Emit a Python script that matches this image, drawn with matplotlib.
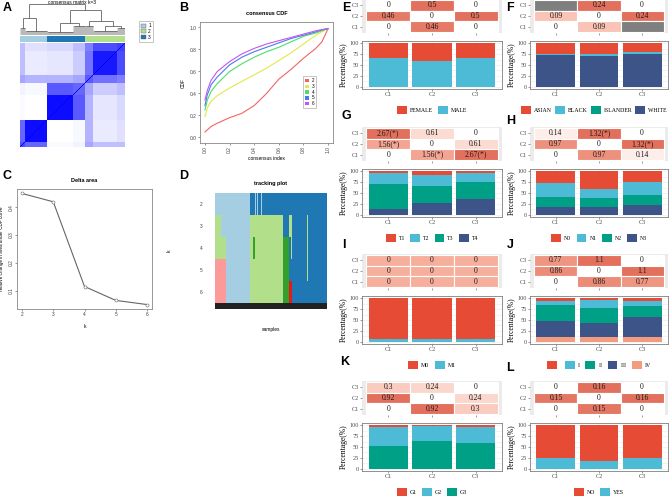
import numpy as np
import matplotlib.pyplot as plt
from matplotlib.patches import Patch, Rectangle
from matplotlib.colors import LinearSegmentedColormap, ListedColormap

SANS = 'Liberation Sans'
SERIF = 'Liberation Serif'

# ---------------- A: consensus matrix (k=3) ----------------
# sample sub-groups in plotting order, their cluster and group-level consensus
sub_sizes = [5, 22, 26, 12, 8, 24, 8]
sub_cluster = [1, 1, 3, 3, 2, 2, 2]
sub_consensus = [
    [0.70, 0.60, 0.02, 0.05, 0.35, 0.25, 0.25],
    [0.60, 0.95, 0.00, 0.03, 0.30, 0.08, 0.12],
    [0.02, 0.00, 0.95, 0.65, 0.30, 0.10, 0.15],
    [0.05, 0.03, 0.65, 0.60, 0.35, 0.20, 0.25],
    [0.35, 0.30, 0.30, 0.35, 0.65, 0.55, 0.50],
    [0.25, 0.08, 0.10, 0.20, 0.55, 0.90, 0.70],
    [0.25, 0.12, 0.15, 0.25, 0.50, 0.70, 0.75],
]
sub_leaf_h = [0.22, 0.12, 0.10, 0.28, 0.30, 0.12, 0.22]
tree = (1.0, [(0.53, [0, 1]), (0.80, [(0.37, [2, 3]), (0.45, [4, (0.30, [5, 6])])])])
cluster_colors = {1: '#A6CEE3', 2: '#B2DF8A', 3: '#1F78B4'}

# ---------------- B: consensus CDF ----------------
cdf_x = [0, 0.02, 0.05, 0.1, 0.2, 0.3, 0.4, 0.5, 0.6, 0.7, 0.8, 0.9, 0.95, 1.0]
cdf_k2 = [0.05, 0.07, 0.10, 0.13, 0.18, 0.22, 0.29, 0.40, 0.53, 0.62, 0.72, 0.81, 0.87, 0.99]
cdf_k3 = [0.19, 0.27, 0.33, 0.38, 0.45, 0.51, 0.57, 0.63, 0.70, 0.77, 0.85, 0.93, 0.96, 0.99]
cdf_k4 = [0.25, 0.34, 0.42, 0.49, 0.60, 0.67, 0.73, 0.78, 0.82, 0.87, 0.92, 0.95, 0.97, 0.99]
cdf_k5 = [0.29, 0.39, 0.48, 0.55, 0.66, 0.73, 0.78, 0.82, 0.86, 0.90, 0.93, 0.96, 0.98, 0.99]
cdf_k6 = [0.34, 0.43, 0.52, 0.60, 0.69, 0.76, 0.81, 0.85, 0.88, 0.91, 0.94, 0.97, 0.98, 0.99]
cdf_colors = ['#F26464', '#E3E84A', '#4FDD6A', '#4A7BF0', '#C555EE']

# ---------------- C: delta area ----------------
delta_k = [2, 3, 4, 5, 6]
delta_area = [0.45, 0.42, 0.115, 0.065, 0.05]

# ---------------- D: tracking plot (runs of cluster colour per k) ----------------
track_palette = ['#A6CEE3', '#1F78B4', '#B2DF8A', '#33A02C', '#FB9A99', '#E31A1C', '#222222']
track_runs = {
    2: [(0, 35), (1, 5), (0, 1), (1, 1), (0, 1), (1, 3), (0, 1), (1, 65)],
    3: [(2, 6), (0, 29), (2, 33), (1, 6), (2, 3), (1, 15), (2, 1), (1, 19)],
    4: [(2, 11), (0, 24), (2, 3), (3, 2), (2, 28), (3, 6), (1, 2), (2, 1), (1, 15), (2, 1), (1, 19)],
    5: [(4, 11), (0, 24), (2, 33), (3, 6), (1, 18), (2, 1), (1, 19)],
    6: [(4, 11), (0, 24), (2, 33), (3, 6), (5, 3), (1, 35)],
}

# ---------------- E-L: clinical composition ----------------
clusters = ['C1', 'C2', 'C3']
npg = ['#E64B35', '#4DBBD5', '#00A087', '#3C5488', '#F39B7F']

e_cells = [['0', '0.5', '0'], ['0.46', '0', '0.5'], ['0', '0.46', '0']]
e_levels = ['FEMALE', 'MALE']
e_pct = [[34, 40, 34], [66, 60, 66]]

f_cells = [['NA', '0.24', '0'], ['0.09', '0', '0.24'], ['0', '0.09', 'NA']]
f_levels = ['ASIAN', 'BLACK', 'ISLANDER', 'WHITE']
f_pct = [[24, 25.5, 20], [3, 4.2, 5], [0.5, 0.3, 0], [72.5, 70, 75]]

g_cells = [['2.67(*)', '0.61', '0'], ['1.56(*)', '0', '0.61'], ['0', '1.56(*)', '2.67(*)']]
g_levels = ['T1', 'T2', 'T3', 'T4']
g_pct = [[4, 8.5, 4], [25, 24.5, 20], [58, 41, 40], [13, 26, 36]]

h_cells = [['0.14', '1.32(*)', '0'], ['0.97', '0', '1.32(*)'], ['0', '0.97', '0.14']]
h_levels = ['N0', 'N1', 'N2', 'N3']
h_pct = [[27, 40, 25], [33, 22, 30], [22, 21, 22], [18, 17, 23]]

i_cells = [['0', '0', '0'], ['0', '0', '0'], ['0', '0', '0']]
i_levels = ['M0', 'M1']
i_pct = [[94, 94.5, 94.5], [6, 5.5, 5.5]]

j_cells = [['0.77', '1.1', '0'], ['0.86', '0', '1.1'], ['0', '0.86', '0.77']]
j_levels = ['', 'I', 'II', 'III', 'IV']
j_pct = [[6, 4, 6], [10, 19.5, 13], [37, 33.5, 23], [37, 33, 47], [10, 10, 11]]

k_cells = [['0.3', '0.24', '0'], ['0.92', '0', '0.24'], ['0', '0.92', '0.3']]
k_levels = ['G1', 'G2', 'G3']
k_pct = [[5, 1, 4], [43, 36, 36], [52, 63, 60]]

l_cells = [['0', '0.16', '0'], ['0.15', '0', '0.16'], ['0', '0.15', '0']]
l_levels = ['NO', 'YES']
l_pct = [[76, 82, 76], [24, 18, 24]]

# ---------------------------------------------------------------
W, H = 672, 498
fig = plt.figure(figsize=(W / 100, H / 100), dpi=100)


def px_axes(x0, y0, x1, y1):
    return fig.add_axes([x0 / W, 1 - y1 / H, (x1 - x0) / W, (y1 - y0) / H])


def label(x, y, s):
    fig.text(x / W, 1 - y / H, s, fontsize=9, fontweight='bold', family=SANS,
             ha='center', va='center')


# ---- A ----
idx = np.repeat(np.arange(len(sub_sizes)), sub_sizes)
cons = np.array(sub_consensus)[np.ix_(idx, idx)]
np.fill_diagonal(cons, 1.0)
n_samp = len(idx)

ax = px_axes(20, 43, 125, 147)
ax.imshow(cons, origin='lower', aspect='auto', interpolation='nearest',
          cmap=LinearSegmentedColormap.from_list('wb', ['white', '#0000FF']),
          vmin=0, vmax=1)
ax.axis('off')

axc = px_axes(20, 36, 125, 42)
clu = [sub_cluster[g] for g in idx]
axc.imshow([clu], aspect='auto', interpolation='nearest',
           cmap=ListedColormap([cluster_colors[1], cluster_colors[2], cluster_colors[3]]),
           vmin=0.5, vmax=3.5)
axc.axis('off')

axd = px_axes(20, 3, 125, 35)
axd.set_xlim(0, n_samp)
axd.set_ylim(0, 1.02)
axd.axis('off')
pos = [0]
lc = '#444444'


def draw_tree(node):
    if isinstance(node, int):
        xs = pos[0] + np.arange(sub_sizes[node]) + 0.5
        h = sub_leaf_h[node]
        axd.vlines(xs, 0, h, color=lc, lw=0.3)
        axd.hlines(h, xs[0], xs[-1], color=lc, lw=0.4)
        pos[0] += sub_sizes[node]
        return xs.mean(), h
    h, kids = node
    res = [draw_tree(k) for k in kids]
    for x, hk in res:
        axd.vlines(x, hk, h, color=lc, lw=0.5)
    cx = [r[0] for r in res]
    axd.hlines(h, min(cx), max(cx), color=lc, lw=0.5)
    return np.mean(cx), h


draw_tree(tree)
fig.text(72 / W, 1 - 2 / H, 'consensus matrix k=3', fontsize=3.5, family=SANS,
         ha='center', va='center')
fig.legend([Patch(fc=cluster_colors[c], ec='#666', lw=0.3) for c in (1, 2, 3)],
           ['1', '2', '3'], loc='upper left', bbox_to_anchor=(137 / W, 1 - 19 / H),
           prop={'family': SANS, 'size': 3.5}, handlelength=0.9, handleheight=0.9,
           borderpad=0.4, labelspacing=0.15, handletextpad=0.5, fancybox=False,
           edgecolor='#999999', framealpha=1).get_frame().set_linewidth(0.4)
label(7, 8, 'A')


def r_style(ax):
    for s in ax.spines.values():
        s.set_color('#888888')
        s.set_linewidth(0.6)
    ax.tick_params(labelsize=3.5, length=1.5, width=0.4, colors='#444444', pad=1)
    for t in ax.get_xticklabels() + ax.get_yticklabels():
        t.set_family(SANS)


# ---- B ----
ax = px_axes(200, 22, 333, 143)
for ys, c, k in zip([cdf_k2, cdf_k3, cdf_k4, cdf_k5, cdf_k6], cdf_colors, range(2, 7)):
    ax.plot(cdf_x, ys, color=c, lw=0.8, label=str(k))
ax.set_xlim(-0.04, 1.04)
ax.set_ylim(-0.05, 1.05)
ax.set_xticks([0, 0.2, 0.4, 0.6, 0.8, 1.0])
ax.set_xticklabels(['0.0', '0.2', '0.4', '0.6', '0.8', '1.0'], rotation=90)
ax.set_yticks([0, 0.2, 0.4, 0.6, 0.8, 1.0])
ax.set_yticklabels(['0.0', '0.2', '0.4', '0.6', '0.8', '1.0'])
r_style(ax)
ax.set_title('consensus CDF', fontsize=4, family=SANS, fontweight='bold', pad=5)
ax.set_xlabel('consensus index', fontsize=3.5, family=SANS, labelpad=2)
ax.set_ylabel('CDF', fontsize=3.5, family=SANS, labelpad=3)
leg = ax.legend(loc='center left', bbox_to_anchor=(0.76, 0.42),
                handles=[Patch(fc=c, label=str(k)) for c, k in zip(cdf_colors, range(2, 7))],
                prop={'family': SANS, 'size': 3.3}, handlelength=0.8, handleheight=0.8,
                labelspacing=0.15, borderpad=0.4, handletextpad=0.6, fancybox=False,
                edgecolor='#999999', framealpha=1)
leg.get_frame().set_linewidth(0.4)
label(184, 8, 'B')

# ---- C ----
ax = px_axes(17, 189, 152, 309)
ax.plot(delta_k, delta_area, color='#666666', lw=0.8, marker='o', ms=2.2,
        mfc='white', mec='#666666', mew=0.4)
ax.set_xlim(1.84, 6.16)
ax.set_ylim(0.034, 0.466)
ax.set_xticks(delta_k)
ax.set_yticks([0.1, 0.2, 0.3, 0.4])
for t in ax.get_yticklabels():
    t.set_rotation(90)
    t.set_va('center')
r_style(ax)
ax.set_title('Delta area', fontsize=4, family=SANS, fontweight='bold', pad=5)
ax.set_xlabel('k', fontsize=3.5, family=SANS, labelpad=5)
ax.set_ylabel('relative change in area under CDF curve', fontsize=3.3, family=SANS,
              labelpad=3)
label(7, 176, 'C')

# ---- D ----
ks = sorted(track_runs)
track = []
for k in ks:
    row = []
    for code, n in track_runs[k]:
        row += [code] * n
    track.append(row)
track.append([6] * len(track[0]))
ax = px_axes(215, 193, 327, 309)
heights = [1] * len(ks) + [0.25]
edges = np.concatenate([[0], np.cumsum(heights)])
ax.pcolormesh(np.arange(len(track[0]) + 1), edges, np.array(track),
              cmap=ListedColormap(track_palette), vmin=-0.5, vmax=6.5)
ax.set_ylim(edges[-1], 0)
ax.set_xlim(0, len(track[0]))
for s in ax.spines.values():
    s.set_visible(False)
ax.set_xticks([])
ax.set_yticks(np.arange(len(ks)) + 0.5)
ax.set_yticklabels([str(k) for k in ks])
ax.tick_params(axis='y', length=0, labelsize=3.5, pad=9, colors='#444444')
for t in ax.get_yticklabels():
    t.set_family(SANS)
ax.set_title('tracking plot', fontsize=4, family=SANS, fontweight='bold', pad=6)
ax.set_xlabel('samples', fontsize=3.5, family=SANS, labelpad=13)
ax.set_ylabel('k', fontsize=3.5, family=SANS, labelpad=20)
label(184, 176, 'D')

# ---- E-L ----
heat_cmap = LinearSegmentedColormap.from_list('hr', ['#FFFFFF', '#F7AF9D', '#E2705C'])
cols_x = [(362, 502), (530, 668)]
row_top = [-1, 127, 254, 381]


def comp_panel(col, row, cells, levels, pct, colors, leg_dx=0, leg_cs=0.9):
    x0, x1 = cols_x[col]
    top = row_top[row]
    # pairwise heatmap
    axh = px_axes(x0, top, x1, top + 34)
    axh.set_facecolor('#EBEBEB')
    nums = [float(s.replace('(*)', '')) for r in cells for s in r if s != 'NA']
    vmax = max(nums)
    for r, cr in enumerate(cells):
        y = 3 - r
        for c, s in enumerate(cr):
            if s == 'NA':
                fc = '#7F7F7F'
            else:
                v = float(s.replace('(*)', ''))
                fc = heat_cmap(v / vmax) if vmax > 0 else heat_cmap(0.5)
            axh.add_patch(Rectangle((c + 0.5, y - 0.5), 1, 1, fc=fc, ec='white', lw=0.8))
            if s != 'NA':
                axh.text(c + 1, y, s, ha='center', va='center', fontsize=5.5,
                         family=SERIF, color='#1A1A1A')
    axh.set_xlim(0.4, 3.6)
    axh.set_ylim(0.4, 3.6)
    axh.set_xticks([1, 2, 3])
    axh.set_xticklabels([])
    axh.set_yticks([1, 2, 3])
    axh.set_yticklabels(clusters)
    axh.tick_params(labelsize=4.5, length=1.5, width=0.4, colors='#4D4D4D', pad=1)
    for t in axh.get_yticklabels():
        t.set_family(SERIF)
    for s in axh.spines.values():
        s.set_visible(False)

    # stacked percentage bars (first level on top)
    axb = px_axes(x0, top + 42, x1, top + 90)
    xs = np.arange(1, 4)
    bottom = np.zeros(3)
    for lev_vals, c in reversed(list(zip(pct, colors))):
        axb.bar(xs, lev_vals, bottom=bottom, width=0.9, color=c, zorder=2)
        bottom += np.array(lev_vals)
    axb.set_xlim(0.4, 3.6)
    axb.set_ylim(-5, 105)
    axb.set_xticks(xs)
    axb.set_xticklabels(clusters)
    axb.set_yticks([0, 25, 50, 75, 100])
    axb.set_yticks([12.5, 37.5, 62.5, 87.5], minor=True)
    axb.grid(True, which='both', color='#EBEBEB', lw=0.4, zorder=0)
    axb.set_axisbelow(True)
    axb.tick_params(labelsize=4.5, length=1.5, width=0.4, colors='#4D4D4D', pad=1)
    axb.tick_params(which='minor', length=0)
    for t in axb.get_xticklabels() + axb.get_yticklabels():
        t.set_family(SERIF)
    for s in axb.spines.values():
        s.set_color('#7F7F7F')
        s.set_linewidth(0.6)
    axb.set_ylabel('Percentage(%)', fontsize=5.5, family=SERIF, labelpad=1)

    fig.legend(handles=[Patch(fc=c, label=l) for l, c in zip(levels, colors)],
               loc='center', bbox_to_anchor=((x0 + x1) / 2 / W + leg_dx / W,
                                             1 - (top + 111) / H),
               ncol=len(levels), frameon=False, prop={'family': SERIF, 'size': 4.2},
               handlelength=1.7, handleheight=1.5, columnspacing=leg_cs, handletextpad=0.5,
               borderaxespad=0, borderpad=0)


comp_panel(0, 0, e_cells, e_levels, e_pct, npg[:2])
comp_panel(1, 0, f_cells, f_levels, f_pct, npg[:4], leg_dx=-5, leg_cs=0.5)
comp_panel(0, 1, g_cells, g_levels, g_pct, npg[:4])
comp_panel(1, 1, h_cells, h_levels, h_pct, npg[:4])
comp_panel(0, 2, i_cells, i_levels, i_pct, npg[:2])
comp_panel(1, 2, j_cells, j_levels, j_pct, npg[:5])
comp_panel(0, 3, k_cells, k_levels, k_pct, npg[:3])
comp_panel(1, 3, l_cells, l_levels, l_pct, npg[:2])

for x, y, s in [(346, 8, 'E'), (510, 8, 'F'), (346, 116, 'G'), (511, 121, 'H'),
                (344, 245, 'I'), (510, 245, 'J'), (345, 362, 'K'), (510, 368, 'L')]:
    label(x, y, s)

fig.savefig('out.png', dpi=100)
